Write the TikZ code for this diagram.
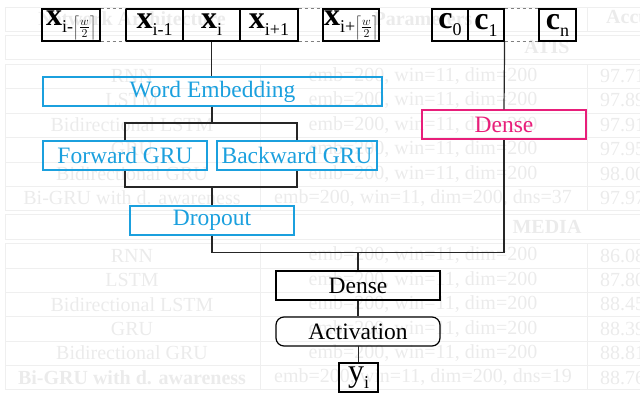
\documentclass[tikz,border=0pt]{standalone}
\usepackage{fontspec}
\setmainfont{Liberation Serif}
\usetikzlibrary{calc}
\definecolor{cblue}{RGB}{27,160,222}
\definecolor{cpink}{RGB}{232,30,122}
\definecolor{ghost}{RGB}{235,235,235}
\definecolor{ghostline}{RGB}{239,239,239}
\newcommand{\inlab}[2]{{\fontsize{32}{32}\selectfont\bfseries #1}\raisebox{-7pt}{\fontsize{18}{18}\selectfont #2}}
\begin{document}
\begin{tikzpicture}[x=1pt,y=-1pt,
 bbox/.style={draw=black,line width=1.2pt,minimum height=29pt,inner sep=0pt,font=\fontsize{23.5}{26}\selectfont},
 bluebox/.style={bbox,draw=cblue,text=cblue,line width=1.4pt},
 pinkbox/.style={bbox,draw=cpink,text=cpink,line width=1.4pt},
 inbox/.style={draw=black,line width=1.2pt,minimum height=32pt,inner sep=0pt},
 gap/.style={draw=gray,line width=0.8pt,dash pattern=on 3pt off 3pt},
 conn/.style={draw=black!85,line width=1.2pt},
 gtext/.style={text=ghost,font=\fontsize{20}{22}\selectfont,inner sep=0pt},
 gbold/.style={gtext,font=\fontsize{20}{22}\selectfont\bfseries},
 gline/.style={draw=ghostline,line width=1pt}]
\useasboundingbox (0,0) rectangle (640,400);
\clip (0,0) rectangle (640,400);
% ---------- ghost table in the background ----------
\draw[gline] (5,7) rectangle (700,31);
\draw[gline] (260,7) -- (260,31) (587,7) -- (587,31);
\node[gbold] (hna) at (132,19) {Network Architecture};
\node[gbold] (hpa) at (423,19) {Parameters};
\node[gbold,anchor=west] (hac) at (606,19) {Accuracy};
\draw[gline] (5,35) rectangle (700,59);
\node[gbold] (hatis) at (547,47) {ATIS};
\draw[gline] (5,64) rectangle (700,210);
\foreach \yy in {88,113,137,162,186} \draw[gline] (5,\yy) -- (700,\yy);
\draw[gline] (260,64) -- (260,210) (587,64) -- (587,210);
\draw[gline] (5,214) rectangle (700,239);
\node[gbold] (hmedia) at (547,226.5) {MEDIA};
\draw[gline] (5,243) rectangle (700,389);
\foreach \yy in {268,292,316,341,365} \draw[gline] (5,\yy) -- (700,\yy);
\draw[gline] (260,243) -- (260,389) (587,243) -- (587,389);
\foreach \nm/\pa/\ac [count=\k from 0] in {
  RNN/{emb=200, win=11, dim=200}/97.71,
  LSTM/{emb=200, win=11, dim=200}/97.89,
  Bidirectional LSTM/{emb=200, win=11, dim=200}/97.91,
  GRU/{emb=200, win=11, dim=200}/97.95,
  Bidirectional GRU/{emb=200, win=11, dim=200}/98.00,
  Bi-GRU with d. awareness/{emb=200, win=11, dim=200, dns=37}/97.97}{
  \node[gtext] (an\k) at (132,76+24.4*\k) {\nm};
  \node[gtext] (ap\k) at (423,76+24.4*\k) {\pa};
  \node[gtext,anchor=west] (aa\k) at (600,76+24.4*\k) {\ac};
}
\foreach \nm/\pa/\ac [count=\k from 0] in {
  RNN/{emb=200, win=11, dim=200}/86.08,
  LSTM/{emb=200, win=11, dim=200}/87.80,
  Bidirectional LSTM/{emb=200, win=11, dim=200}/88.45,
  GRU/{emb=200, win=11, dim=200}/88.39,
  Bidirectional GRU/{emb=200, win=11, dim=200}/88.81}{
  \node[gtext] (mn\k) at (132,255.5+24.4*\k) {\nm};
  \node[gtext] (mp\k) at (423,255.5+24.4*\k) {\pa};
  \node[gtext,anchor=west] (ma\k) at (600,255.5+24.4*\k) {\ac};
}
\node[gbold] (mn5) at (132,377.5) {Bi-GRU with d. awareness};
\node[gtext] (mp5) at (423,377.5) {emb=200, win=11, dim=200, dns=19};
\node[gtext,anchor=west] (ma5) at (600,377.5) {88.76};
% ---------- inputs ----------
\node[inbox,minimum width=58pt] (xa) at (71,25) {\inlab{x}{i-$\left\lceil\frac{w}{2}\right\rceil$}};
\node[inbox,minimum width=57pt] (xb) at (154.5,25) {\inlab{x}{i-1}};
\node[inbox,minimum width=57pt] (xc) at (211.5,25) {\inlab{x}{i}};
\node[inbox,minimum width=58pt] (xd) at (269,25) {\inlab{x}{i+1}};
\node[inbox,minimum width=56pt] (xe) at (351,25) {\inlab{x}{i+$\left\lceil\frac{w}{2}\right\rceil$}};
\node[inbox,minimum width=36pt] (c0) at (450,25) {\inlab{c}{0}};
\node[inbox,minimum width=36pt] (c1) at (486,25) {\inlab{c}{1}};
\node[inbox,minimum width=37pt] (cn) at (557.5,25) {\inlab{c}{n}};
\draw[gap] (xa.north east) -- (xb.north west) (xa.south east) -- (xb.south west);
\draw[gap] (xd.north east) -- (xe.north west) (xd.south east) -- (xe.south west);
\draw[gap] (c1.north east) -- (cn.north west) (c1.south east) -- (cn.south west);
% ---------- layers ----------
\node[bluebox,minimum width=339pt] (we) at (212.5,91.5) {Word Embedding};
\node[bluebox,minimum width=164pt] (fg) at (125,155.5) {Forward GRU};
\node[bluebox,minimum width=160pt] (bg) at (297,155.5) {Backward GRU};
\node[bluebox,minimum width=164pt] (drop) at (212,220.5) {Dropout};
\node[pinkbox,minimum width=164pt] (pd) at (504,124.5) {Dense};
\node[bbox,minimum width=164pt] (dense) at (358,285.5) {Dense};
\node[bbox,minimum width=164pt,rounded corners=8pt] (act) at (358,331.5) {Activation};
\node[bbox,minimum width=39pt,font=\fontsize{32}{32}\selectfont] (y) at (358.5,377.5) {y\raisebox{-7pt}{\fontsize{18}{18}\selectfont i}};
\coordinate (j1) at (212,123);
\coordinate (j2) at (212,187);
\coordinate (j3) at (504,252.5);
% ---------- connectors ----------
\draw[conn] (xc.south) -- (xc.south |- we.north);
\draw[conn] (we.south -| j1) -- (j1);
\draw[conn] (fg.north) |- (j1) -| (bg.north);
\draw[conn] (fg.south) |- (j2) -| (bg.south);
\draw[conn] (j2) -- (j2 |- drop.north);
\draw[conn] (drop.south -| j2) |- (j3) -- (pd.south);
\draw[conn] (c1.south east) -- (pd.north);
\draw[conn] (dense.north) -- (dense.north |- j3);
\draw[conn] (dense.south) -- (act.north);
\draw[conn] (act.south) -- (act.south -| y.north) -- (y.north);
\end{tikzpicture}
\end{document}
